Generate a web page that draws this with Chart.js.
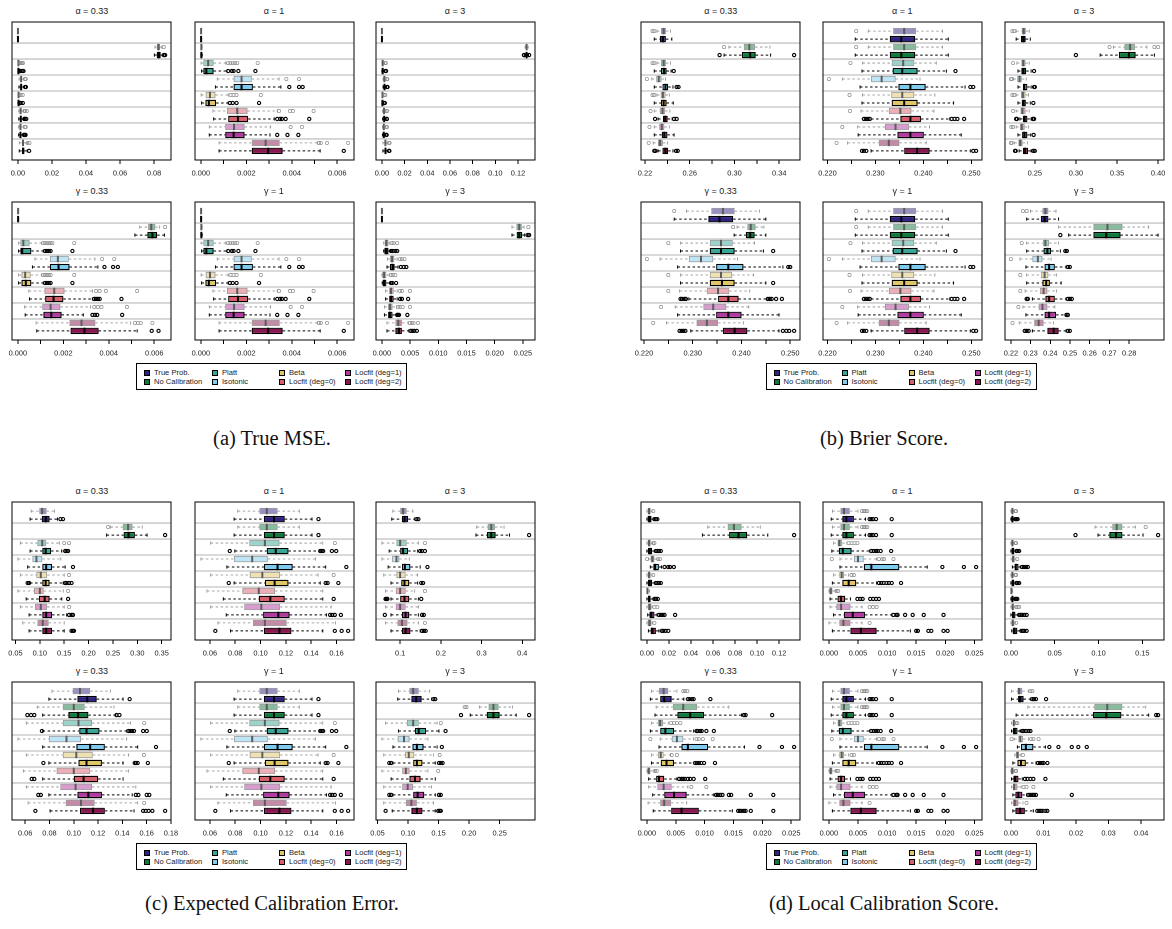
<!DOCTYPE html>
<html>
<head>
<meta charset="utf-8">
<script src="https://cdn.jsdelivr.net/npm/chart.js@4.4.1/dist/chart.umd.min.js"></script>
<style>
body { margin: 0; background: #fff; }
#page { position: relative; width: 1172px; height: 929px; overflow: hidden; font-family: "Liberation Sans", Arial, sans-serif; }
canvas { position: absolute; }
.ptitle { position: absolute; width: 159px; text-align: center; font-size: 9px; line-height: 10px; color: #222; }
.legend { position: absolute; width: 271px; height: 27px; border: 1px solid #000; box-sizing: border-box; }
.litem { position: absolute; font-size: 7.6px; line-height: 8px; color: #222; white-space: nowrap; }
.lsq { position: absolute; width: 6px; height: 6px; border: 1px solid #000; box-sizing: border-box; }
.caption { position: absolute; font-family: "Liberation Serif", serif; font-size: 20.5px; line-height: 24px; color: #111; white-space: nowrap; transform: translateX(-50%); }
</style>
</head>
<body>
<div id="page"></div>
<script>
// rows per panel: [lower whisker, q1, median, q3, upper whisker, [outliers]]
// two rows per method: first = light (top), second = dark (bottom)
const methodNames = ['True Prob.', 'No Calibration', 'Platt', 'Isotonic', 'Beta', 'Locfit (deg=0)', 'Locfit (deg=1)', 'Locfit (deg=2)']
const methodColors = ['#2e2382', '#0f7a3b', '#38a595', '#7ecbee', '#dfc666', '#d85f6c', '#b13aa0', '#87184f']
const panelTitles = ['α = 0.33', 'α = 1', 'α = 3', 'γ = 0.33', 'γ = 1', 'γ = 3']

// (a) True MSE
const mseA033 = [
  [0, 0.00002, 0.00004, 0.00006, 0.0001, []],
  [0, 0.00002, 0.00004, 0.00006, 0.0001, []],
  [0.0805, 0.0816, 0.0826, 0.0835, 0.0845, [0.0857]],
  [0.0802, 0.0816, 0.0828, 0.0839, 0.0849, [0.0858, 0.0865]],
  [0, 0.0001, 0.0003, 0.0006, 0.0012, [0.0014, 0.0017, 0.0025, 0.003]],
  [0, 0.0001, 0.0003, 0.0006, 0.0012, [0.0014, 0.0016, 0.0026, 0.0033]],
  [0.0007, 0.0015, 0.0019, 0.0024, 0.0036, [0.0041, 0.0046]],
  [0.0006, 0.0015, 0.0019, 0.0025, 0.0038, [0.0042, 0.0047]],
  [0, 0.0002, 0.0004, 0.0007, 0.0013, [0.0016, 0.0028]],
  [0, 0.0002, 0.0004, 0.0007, 0.0013, [0.0015, 0.0017, 0.0029]],
  [0.0005, 0.0012, 0.0016, 0.0021, 0.0034, [0.0038, 0.0041, 0.0052]],
  [0.0005, 0.0012, 0.0017, 0.0022, 0.0035, [0.0038, 0.004, 0.0049]],
  [0.0004, 0.0011, 0.0015, 0.002, 0.0032, [0.0041, 0.0046]],
  [0.0004, 0.0011, 0.0015, 0.002, 0.0032, [0.0035, 0.0039, 0.0045]],
  [0.0008, 0.0024, 0.003, 0.0036, 0.0054, [0.0056, 0.0068]],
  [0.0008, 0.0024, 0.0031, 0.0038, 0.0055, [0.0066]]
]
const mseA1 = [
  [0, 0.000005, 0.00001, 0.000015, 0.00003, []],
  [0, 0.000005, 0.00001, 0.000015, 0.00003, []],
  [0, 0.00001, 0.00002, 0.00003, 0.00006, []],
  [0, 0.00001, 0.00002, 0.00003, 0.00006, []],
  [0.00001, 0.00011, 0.00032, 0.00056, 0.0011, [0.0012, 0.0013, 0.0014, 0.0015, 0.0016, 0.0025]],
  [0.00003, 0.00011, 0.00024, 0.00056, 0.00115, [0.0012, 0.00136, 0.00144, 0.00165, 0.0024]],
  [0.00072, 0.00144, 0.00179, 0.00224, 0.00344, [0.00376, 0.00432]],
  [0.00064, 0.00144, 0.00179, 0.00229, 0.00352, [0.00389, 0.00432, 0.00448]],
  [0.00001, 0.00021, 0.0004, 0.00064, 0.0012, [0.00131, 0.00144, 0.00157, 0.00264]],
  [0.00003, 0.0002, 0.00035, 0.00067, 0.0012, [0.00128, 0.0014, 0.00157, 0.00256]],
  [0.00053, 0.00115, 0.0016, 0.00205, 0.00336, [0.00344, 0.00392, 0.00405, 0.00496]],
  [0.00056, 0.0012, 0.00163, 0.00208, 0.00323, [0.00336, 0.00349, 0.00357, 0.00373, 0.00477]],
  [0.00037, 0.00107, 0.00146, 0.00192, 0.00307, [0.00395, 0.00445]],
  [0.00037, 0.00107, 0.00144, 0.00192, 0.00304, [0.00336, 0.00381, 0.00429]],
  [0.0008, 0.00224, 0.00285, 0.00347, 0.00512, [0.0052, 0.00528, 0.00555, 0.00648]],
  [0.0008, 0.00224, 0.00296, 0.0036, 0.00525, [0.00629]]
]
const mseA3 = [
  [0, 0.00002, 0.00004, 0.00006, 0.0001, []],
  [0, 0.00002, 0.00004, 0.00006, 0.0001, []],
  [0.1262, 0.1271, 0.1276, 0.1281, 0.129, []],
  [0.1258, 0.127, 0.1276, 0.1282, 0.1293, [0.1252, 0.1255, 0.1298]],
  [0, 0.0003, 0.0007, 0.0012, 0.0025, [0.003, 0.0035]],
  [0, 0.0003, 0.0007, 0.0013, 0.0026, [0.0031, 0.0037]],
  [0.001, 0.0018, 0.0022, 0.0027, 0.0038, [0.0043, 0.0048]],
  [0.001, 0.0018, 0.0023, 0.0028, 0.004, [0.0045, 0.005]],
  [0, 0.0002, 0.0005, 0.0009, 0.0018, [0.0022, 0.003]],
  [0, 0.0002, 0.0005, 0.0009, 0.0018, [0.0021, 0.0026]],
  [0.0006, 0.0015, 0.0019, 0.0024, 0.0037, [0.0041, 0.0046]],
  [0.0006, 0.0015, 0.002, 0.0025, 0.0038, [0.0042, 0.0044]],
  [0.0005, 0.0013, 0.0017, 0.0022, 0.0035, [0.0039, 0.0045]],
  [0.0005, 0.0013, 0.0017, 0.0022, 0.0035, [0.0038, 0.0042]],
  [0.0009, 0.0025, 0.0031, 0.0037, 0.0055, [0.006, 0.0068]],
  [0.0009, 0.0025, 0.0032, 0.0039, 0.0056, [0.0062, 0.0066]]
]
const mseG033 = [
  [0, 0.000005, 0.00001, 0.000015, 0.00003, []],
  [0, 0.000005, 0.00001, 0.000015, 0.00003, []],
  [0.00536, 0.00573, 0.00587, 0.00605, 0.00624, [0.00648]],
  [0.00515, 0.0057, 0.00592, 0.00613, 0.00645, []],
  [0.00003, 0.00011, 0.00024, 0.00051, 0.00104, [0.00112, 0.0012, 0.00128, 0.00136, 0.00144, 0.00152, 0.00248]],
  [0.00003, 0.00011, 0.00019, 0.00059, 0.00112, [0.0012, 0.00128, 0.00136, 0.00144, 0.0024]],
  [0.00075, 0.00141, 0.00176, 0.00224, 0.00339, [0.00371, 0.00424]],
  [0.00064, 0.00141, 0.00179, 0.00227, 0.00352, [0.00381, 0.00419, 0.0044]],
  [0.00003, 0.00016, 0.00032, 0.00056, 0.00104, [0.00112, 0.0012, 0.00128, 0.00136, 0.00144, 0.00248]],
  [0.00003, 0.00016, 0.00035, 0.00059, 0.00112, [0.0012, 0.00128, 0.00136, 0.00144, 0.0024]],
  [0.00048, 0.00117, 0.0016, 0.00205, 0.00328, [0.00344, 0.0036, 0.00387, 0.00525]],
  [0.00051, 0.0012, 0.00157, 0.002, 0.00328, [0.00336, 0.00344, 0.00352, 0.0036, 0.00456]],
  [0.00029, 0.00107, 0.00144, 0.00187, 0.0032, [0.00336, 0.00352, 0.00368, 0.0048]],
  [0.00032, 0.00112, 0.00147, 0.00192, 0.00288, [0.00328, 0.00339, 0.00349, 0.00459]],
  [0.0008, 0.00227, 0.0028, 0.00341, 0.00496, [0.00515, 0.00528, 0.00541, 0.00592]],
  [0.00083, 0.00232, 0.00293, 0.00355, 0.00525, [0.00589, 0.00619]]
]
const mseG3 = [
  [0, 0.000005, 0.00001, 0.000015, 0.00003, []],
  [0, 0.000005, 0.00001, 0.000015, 0.00003, []],
  [0.02306, 0.02384, 0.02435, 0.02481, 0.0252, [0.02597]],
  [0.02306, 0.0239, 0.02435, 0.02487, 0.02532, [0.02584, 0.0261]],
  [0.00032, 0.0005, 0.00078, 0.00116, 0.00142, [0.00174, 0.00207, 0.00271]],
  [0.00032, 0.00045, 0.00078, 0.00116, 0.00155, [0.00161, 0.00194, 0.00239, 0.00271]],
  [0.00097, 0.00142, 0.00181, 0.0022, 0.00271, [0.00323, 0.00355, 0.004]],
  [0.0009, 0.00142, 0.00187, 0.00226, 0.00284, [0.00336, 0.00388, 0.00433]],
  [0, 0.00006, 0.00039, 0.00078, 0.0013, [0.00161, 0.00194, 0.00239]],
  [0.00006, 0.00013, 0.00039, 0.00078, 0.00142, [0.00161, 0.00187, 0.00252]],
  [0.00065, 0.00129, 0.00161, 0.00207, 0.00271, [0.00323, 0.00355, 0.00497]],
  [0.00065, 0.00129, 0.00161, 0.00207, 0.00271, [0.00323, 0.00355, 0.00465]],
  [0.00045, 0.0011, 0.00142, 0.00187, 0.00258, [0.00284, 0.00316, 0.00368, 0.00497]],
  [0.00045, 0.0011, 0.00142, 0.00187, 0.00258, [0.00271, 0.00284, 0.00304, 0.00452]],
  [0.0009, 0.00239, 0.0029, 0.00355, 0.00465, [0.00497, 0.0053, 0.00562, 0.00639]],
  [0.0009, 0.00239, 0.00303, 0.00355, 0.00478, [0.0051, 0.00543, 0.00575, 0.0062]]
]

// (b) Brier score
const brierA033 = [
  [0.2307, 0.2343, 0.2367, 0.2387, 0.2427, [0.2267, 0.2283]],
  [0.2283, 0.2333, 0.236, 0.2387, 0.244, []],
  [0.295, 0.3083, 0.3133, 0.3183, 0.3317, [0.2907]],
  [0.2907, 0.3067, 0.314, 0.319, 0.3323, [0.2867, 0.3533]],
  [0.2307, 0.2343, 0.2367, 0.2387, 0.2427, [0.2267, 0.2283]],
  [0.2283, 0.2343, 0.237, 0.2393, 0.2433, [0.2457]],
  [0.226, 0.23, 0.2323, 0.2347, 0.2383, [0.2217]],
  [0.2283, 0.2357, 0.2383, 0.2407, 0.245, [0.2483, 0.25]],
  [0.2307, 0.234, 0.236, 0.2383, 0.2417, [0.2267, 0.2283]],
  [0.2283, 0.2343, 0.2367, 0.2393, 0.2453, []],
  [0.2283, 0.2333, 0.2357, 0.238, 0.2423, [0.225]],
  [0.2317, 0.236, 0.238, 0.2403, 0.2443, [0.229, 0.246, 0.2483]],
  [0.2283, 0.2327, 0.235, 0.2373, 0.2417, [0.224]],
  [0.2283, 0.235, 0.2373, 0.24, 0.246, []],
  [0.2273, 0.2317, 0.2333, 0.236, 0.24, [0.2233]],
  [0.2317, 0.2357, 0.2383, 0.2407, 0.245, [0.2283, 0.2293, 0.2477, 0.2493]]
]
const brierA1 = [
  [0.2285, 0.2337, 0.236, 0.2385, 0.244, [0.226]],
  [0.2258, 0.233, 0.2354, 0.2383, 0.2452, []],
  [0.2285, 0.2337, 0.236, 0.2385, 0.244, [0.226]],
  [0.2258, 0.233, 0.2354, 0.2383, 0.2452, []],
  [0.2273, 0.2334, 0.2358, 0.2381, 0.2427, [0.2248]],
  [0.2272, 0.2336, 0.2356, 0.2388, 0.2448, [0.2467]],
  [0.2231, 0.2291, 0.2313, 0.2342, 0.2393, [0.2203]],
  [0.2268, 0.2348, 0.2373, 0.2405, 0.2487, [0.2498, 0.2504]],
  [0.2273, 0.2333, 0.2356, 0.2381, 0.2424, [0.2246]],
  [0.2272, 0.2334, 0.236, 0.2388, 0.2463, []],
  [0.227, 0.2328, 0.2352, 0.2375, 0.2422, [0.2247]],
  [0.2291, 0.2352, 0.2373, 0.2395, 0.2455, [0.2276, 0.228, 0.2284, 0.2288, 0.2459, 0.2465, 0.2471, 0.2485]],
  [0.2263, 0.232, 0.2342, 0.237, 0.2413, [0.2231]],
  [0.2264, 0.2346, 0.2373, 0.2401, 0.2479, []],
  [0.2242, 0.2307, 0.2328, 0.235, 0.2406, [0.2219]],
  [0.2291, 0.236, 0.2387, 0.2413, 0.2498, [0.2272, 0.2276, 0.2281, 0.2504, 0.251]]
]
const brierA3 = [
  [0.2273, 0.2341, 0.2364, 0.2391, 0.2432, [0.2227, 0.225]],
  [0.2273, 0.2332, 0.2359, 0.2389, 0.2445, []],
  [0.3455, 0.3591, 0.3659, 0.3718, 0.3864, [0.3409, 0.3955, 0.4]],
  [0.3295, 0.3523, 0.3645, 0.3727, 0.3955, [0.3]],
  [0.2282, 0.2336, 0.2359, 0.2386, 0.2432, [0.2236]],
  [0.2295, 0.2336, 0.2364, 0.2395, 0.2455, [0.2491]],
  [0.2241, 0.2286, 0.2314, 0.2341, 0.2395, [0.2209, 0.2218]],
  [0.2295, 0.2355, 0.2373, 0.2409, 0.2455, [0.2491, 0.25]],
  [0.2273, 0.2332, 0.2355, 0.2386, 0.2423, [0.2227, 0.225]],
  [0.2295, 0.2341, 0.2364, 0.2391, 0.2445, [0.2482]],
  [0.2273, 0.2327, 0.235, 0.2386, 0.2432, [0.2236]],
  [0.2318, 0.2355, 0.2377, 0.2409, 0.2455, [0.2273, 0.2282, 0.2477, 0.2491]],
  [0.2273, 0.2318, 0.2341, 0.2377, 0.2423, [0.2214, 0.2236]],
  [0.2295, 0.2345, 0.2373, 0.2409, 0.245, [0.2486]],
  [0.225, 0.23, 0.2322, 0.235, 0.2409, [0.2209, 0.2218]],
  [0.2309, 0.2355, 0.2382, 0.2418, 0.2455, [0.2259, 0.2268, 0.2482, 0.25]]
]
const brierG033 = [
  [0.2287, 0.2338, 0.2362, 0.2386, 0.2437, [0.2262]],
  [0.2262, 0.2332, 0.2355, 0.2383, 0.245, []],
  [0.2391, 0.2412, 0.2419, 0.2429, 0.2446, [0.2383]],
  [0.2385, 0.2409, 0.2418, 0.2427, 0.245, []],
  [0.2275, 0.2335, 0.2358, 0.2382, 0.2427, [0.225]],
  [0.2275, 0.2335, 0.2358, 0.2386, 0.2445, [0.2465]],
  [0.2233, 0.2292, 0.2317, 0.2342, 0.2392, [0.2206]],
  [0.2269, 0.2348, 0.2373, 0.2404, 0.2485, [0.2496, 0.25]],
  [0.2275, 0.2335, 0.2358, 0.2381, 0.2425, [0.225]],
  [0.2275, 0.2335, 0.236, 0.2386, 0.245, [0.2465]],
  [0.2273, 0.2329, 0.2352, 0.2375, 0.2417, [0.225]],
  [0.2292, 0.2352, 0.2373, 0.2394, 0.2452, [0.2275, 0.2278, 0.2283, 0.2286, 0.2454, 0.2458, 0.2462, 0.2471, 0.2483]],
  [0.2264, 0.2322, 0.2342, 0.2369, 0.2415, [0.2235]],
  [0.2269, 0.2348, 0.2373, 0.24, 0.2477, []],
  [0.2246, 0.2308, 0.2329, 0.2352, 0.2404, [0.2219]],
  [0.2296, 0.2362, 0.2386, 0.2412, 0.2477, [0.2273, 0.2277, 0.2281, 0.2285, 0.2485, 0.2492, 0.2498, 0.2508]]
]
const brierG3 = [
  [0.2299, 0.236, 0.2375, 0.239, 0.2429, [0.2261, 0.228]],
  [0.228, 0.2352, 0.2371, 0.239, 0.2442, []],
  [0.2442, 0.2619, 0.269, 0.2766, 0.2899, []],
  [0.2493, 0.2619, 0.2684, 0.2756, 0.2947, [0.2451]],
  [0.228, 0.2362, 0.2375, 0.2394, 0.2442, [0.2255]],
  [0.228, 0.2366, 0.2385, 0.2404, 0.2451, [0.2476, 0.2484]],
  [0.2246, 0.2309, 0.2337, 0.236, 0.2404, [0.22]],
  [0.2276, 0.2371, 0.2394, 0.2423, 0.248, [0.2489, 0.2499]],
  [0.228, 0.2352, 0.2371, 0.239, 0.2432, [0.2248]],
  [0.228, 0.236, 0.2379, 0.2398, 0.2455, []],
  [0.2272, 0.2347, 0.2366, 0.2385, 0.2432, [0.2248]],
  [0.2309, 0.2375, 0.2394, 0.2423, 0.248, [0.228, 0.2286, 0.2489, 0.2499, 0.2509]],
  [0.2261, 0.2341, 0.236, 0.2385, 0.2423, [0.2238]],
  [0.2276, 0.2371, 0.2394, 0.2429, 0.2476, [0.2482, 0.2489]],
  [0.2242, 0.2318, 0.2341, 0.2366, 0.2417, [0.2208]],
  [0.2309, 0.2385, 0.2417, 0.2442, 0.248, [0.227, 0.228, 0.229, 0.2489, 0.2499]]
]

// (c) Expected calibration error
const eceA033 = [
  [0.0823, 0.0988, 0.1048, 0.1138, 0.1303, []],
  [0.08, 0.104, 0.1123, 0.1198, 0.1363, [0.1423, 0.1475]],
  [0.245, 0.27, 0.281, 0.29, 0.31, [0.24]],
  [0.237, 0.272, 0.282, 0.295, 0.32, [0.357]],
  [0.06, 0.095, 0.105, 0.113, 0.14, [0.15, 0.16]],
  [0.08, 0.105, 0.112, 0.123, 0.145, [0.152, 0.155, 0.158]],
  [0.055, 0.085, 0.093, 0.105, 0.143, []],
  [0.075, 0.105, 0.113, 0.125, 0.152, [0.168]],
  [0.06, 0.093, 0.102, 0.115, 0.15, [0.16]],
  [0.08, 0.105, 0.112, 0.12, 0.148, [0.075, 0.078, 0.152, 0.155, 0.16, 0.165]],
  [0.055, 0.088, 0.1, 0.108, 0.148, [0.158]],
  [0.072, 0.098, 0.11, 0.12, 0.145, [0.158]],
  [0.06, 0.09, 0.102, 0.115, 0.15, [0.16]],
  [0.078, 0.105, 0.113, 0.125, 0.155, [0.16, 0.165, 0.168]],
  [0.065, 0.095, 0.106, 0.118, 0.15, []],
  [0.078, 0.105, 0.113, 0.125, 0.15, [0.165, 0.168, 0.17]]
]
const eceA1 = [
  [0.082, 0.0991, 0.1049, 0.1134, 0.1306, []],
  [0.0791, 0.1026, 0.1106, 0.1191, 0.1406, [0.1457]],
  [0.082, 0.0991, 0.1049, 0.1134, 0.1306, []],
  [0.0791, 0.1026, 0.1106, 0.1191, 0.1406, [0.1457]],
  [0.0606, 0.0911, 0.1034, 0.1149, 0.1491, [0.1586]],
  [0.0797, 0.1049, 0.112, 0.122, 0.1463, [0.0757, 0.1471, 0.1483, 0.1494, 0.1563, 0.1597]],
  [0.0529, 0.0791, 0.0934, 0.1057, 0.1434, []],
  [0.0734, 0.1026, 0.1134, 0.1254, 0.1514, [0.1677]],
  [0.0606, 0.0914, 0.1014, 0.1154, 0.1454, [0.1577]],
  [0.0791, 0.1034, 0.1111, 0.122, 0.1471, [0.0749, 0.1514, 0.1529, 0.1614]],
  [0.0577, 0.0857, 0.0986, 0.1114, 0.1491, []],
  [0.0706, 0.0986, 0.1077, 0.1191, 0.1491, [0.1577]],
  [0.0606, 0.0871, 0.1006, 0.1154, 0.1557, []],
  [0.0729, 0.102, 0.114, 0.1229, 0.152, [0.1549, 0.1566, 0.1586, 0.1634]],
  [0.0663, 0.094, 0.1034, 0.1206, 0.1591, []],
  [0.0763, 0.1026, 0.1149, 0.1243, 0.1491, [0.0643, 0.1586, 0.164, 0.1691]]
]
const eceA3 = [
  [0.082, 0.1, 0.1072, 0.1161, 0.1313, []],
  [0.0794, 0.1045, 0.1107, 0.1197, 0.1358, [0.1403, 0.1448]],
  [0.288, 0.3149, 0.3238, 0.3328, 0.3552, []],
  [0.2862, 0.3131, 0.3238, 0.3346, 0.3686, [0.4168]],
  [0.0552, 0.091, 0.1, 0.1161, 0.1448, [0.1609]],
  [0.0731, 0.1, 0.1072, 0.1197, 0.143, [0.1492, 0.1537, 0.1609]],
  [0.0552, 0.0803, 0.091, 0.0982, 0.1224, []],
  [0.0705, 0.1045, 0.1116, 0.1251, 0.1492, [0.1671]],
  [0.0597, 0.091, 0.1, 0.1134, 0.143, []],
  [0.0776, 0.1027, 0.1107, 0.1224, 0.143, [0.1519, 0.1564]],
  [0.0642, 0.0892, 0.1, 0.1134, 0.1358, [0.1609]],
  [0.0776, 0.1, 0.1107, 0.1224, 0.1448, [0.0642, 0.0669, 0.0687, 0.1519]],
  [0.0642, 0.0892, 0.1, 0.1134, 0.1448, []],
  [0.0776, 0.1045, 0.1134, 0.1224, 0.1448, [0.0624, 0.1537, 0.1582]],
  [0.0642, 0.0937, 0.1045, 0.1179, 0.1448, [0.1609]],
  [0.0776, 0.1045, 0.1134, 0.1251, 0.1492, [0.1537, 0.1582, 0.1627]]
]
const eceG033 = [
  [0.082, 0.0991, 0.1051, 0.1135, 0.1301, []],
  [0.0795, 0.103, 0.1111, 0.1189, 0.1406, [0.146]],
  [0.0699, 0.091, 0.1, 0.109, 0.1331, []],
  [0.0744, 0.0955, 0.1036, 0.112, 0.1346, [0.0618, 0.0648, 0.0675, 0.1352, 0.1376]],
  [0.0609, 0.091, 0.1039, 0.115, 0.1466, [0.158]],
  [0.0744, 0.1045, 0.1105, 0.1211, 0.1436, [0.0738, 0.1451, 0.1466, 0.1481, 0.1496, 0.1571, 0.1601]],
  [0.054, 0.0795, 0.094, 0.106, 0.1436, []],
  [0.0744, 0.1021, 0.1135, 0.1256, 0.1526, [0.1677]],
  [0.0609, 0.091, 0.1021, 0.1156, 0.1451, [0.1577]],
  [0.0795, 0.1039, 0.1105, 0.1232, 0.1406, [0.075, 0.1502, 0.1511, 0.1526, 0.161]],
  [0.0585, 0.0859, 0.1, 0.1135, 0.1451, []],
  [0.0744, 0.1, 0.1081, 0.1201, 0.1406, [0.0654, 0.0675]],
  [0.0609, 0.0889, 0.1015, 0.115, 0.1511, []],
  [0.0795, 0.103, 0.112, 0.1232, 0.1481, [0.0708, 0.0729, 0.1511, 0.1532, 0.1601, 0.1622]],
  [0.0624, 0.0934, 0.106, 0.1171, 0.1526, [0.158]],
  [0.0805, 0.1051, 0.1159, 0.1256, 0.1496, [0.0684, 0.1571, 0.1592, 0.1616, 0.1647, 0.1752]]
]
const eceG3 = [
  [0.0843, 0.1024, 0.1084, 0.1175, 0.1355, []],
  [0.0831, 0.1054, 0.1133, 0.1223, 0.1386, [0.1416, 0.1446]],
  [0.2169, 0.2319, 0.2398, 0.2482, 0.2711, [0.1928, 0.1958]],
  [0.2018, 0.2289, 0.2398, 0.25, 0.2771, [0.1867, 0.2982]],
  [0.0633, 0.0982, 0.1084, 0.1175, 0.1476, [0.1536]],
  [0.0843, 0.1114, 0.1175, 0.1295, 0.1506, [0.1614]],
  [0.0572, 0.0831, 0.0934, 0.1024, 0.1325, []],
  [0.0753, 0.1072, 0.1145, 0.1253, 0.1476, [0.1554]],
  [0.0602, 0.0952, 0.1012, 0.1102, 0.1416, [0.1518]],
  [0.0753, 0.1084, 0.1145, 0.1235, 0.1446, [0.0693, 0.0723, 0.1506, 0.1536, 0.1566]],
  [0.0572, 0.0904, 0.0964, 0.1024, 0.1325, [0.1494]],
  [0.0723, 0.1024, 0.1114, 0.1205, 0.1446, []],
  [0.0602, 0.0904, 0.0994, 0.1084, 0.1386, []],
  [0.0753, 0.1084, 0.1157, 0.1265, 0.1446, [0.0693, 0.0723, 0.1506, 0.1536]],
  [0.0602, 0.0964, 0.1054, 0.1145, 0.1416, []],
  [0.0741, 0.1054, 0.1145, 0.1235, 0.1446, [0.0633, 0.1494, 0.1518, 0.1536]]
]

// (d) Local calibration score
const lcsA033 = [
  [0, 0.0007, 0.002, 0.0034, 0.0048, [0.0058]],
  [0, 0.0007, 0.0024, 0.0041, 0.0058, [0.0068, 0.0082, 0.0095]],
  [0.0552, 0.0733, 0.079, 0.0859, 0.1029, []],
  [0.0504, 0.0746, 0.0831, 0.091, 0.1097, [0.1336]],
  [0, 0.0007, 0.002, 0.0034, 0.0048, [0.0058, 0.0068]],
  [0, 0.001, 0.0027, 0.0048, 0.0068, [0.0082, 0.0095, 0.0109, 0.0126]],
  [0.0014, 0.0034, 0.005, 0.0068, 0.0092, [0.0002, 0.0102, 0.0119]],
  [0.0031, 0.0058, 0.0075, 0.0109, 0.0133, [0.016, 0.0194, 0.0211, 0.0245]],
  [0, 0.0007, 0.002, 0.0034, 0.0048, [0.0058]],
  [0, 0.001, 0.0027, 0.0048, 0.0068, [0.0082, 0.0095, 0.0109, 0.0126]],
  [0, 0.0001, 0.0005, 0.0014, 0.0024, []],
  [0, 0.001, 0.002, 0.0034, 0.0058, [0.0068, 0.0082, 0.0099]],
  [0, 0.001, 0.0024, 0.0041, 0.0051, [0.0068, 0.0095]],
  [0.0007, 0.0024, 0.0041, 0.0068, 0.0092, [0.0109, 0.0126, 0.0143, 0.016, 0.0256]],
  [0, 0.0007, 0.0024, 0.0041, 0.0051, [0.0068]],
  [0.0014, 0.0034, 0.005, 0.0082, 0.0109, [0.0136, 0.015, 0.017, 0.0194]]
]
const lcsA1 = [
  [0.0006, 0.002, 0.0026, 0.0036, 0.005, [0.0057, 0.006, 0.0063, 0.0066]],
  [0.0004, 0.0023, 0.003, 0.0043, 0.0063, [0.007, 0.0073, 0.0076, 0.0081, 0.0108]],
  [0.0006, 0.002, 0.0026, 0.0036, 0.005, [0.0057, 0.006, 0.0063, 0.0066]],
  [0.0004, 0.0023, 0.003, 0.0043, 0.0063, [0.007, 0.0073, 0.0076, 0.0081, 0.0108]],
  [0.0008, 0.0015, 0.0018, 0.0023, 0.0031, [0.0034, 0.0039, 0.0044, 0.0049]],
  [0.0005, 0.0017, 0.0024, 0.0039, 0.007, [0.0073, 0.0077, 0.0081, 0.0084, 0.0089, 0.0107]],
  [0.0019, 0.0043, 0.005, 0.006, 0.0082, [0.0005, 0.0086, 0.0092, 0.0095, 0.0111]],
  [0.0019, 0.006, 0.0073, 0.0121, 0.0169, [0.0195, 0.0232, 0.0253]],
  [0.0008, 0.0018, 0.0022, 0.0026, 0.0034, [0.0039, 0.0043]],
  [0.0006, 0.0023, 0.0034, 0.0047, 0.0082, [0.0086, 0.009, 0.0094, 0.0099, 0.0103, 0.0108, 0.0124]],
  [0, 0.0001, 0.0003, 0.0006, 0.0012, [0.0013, 0.0016]],
  [0.0002, 0.0015, 0.0021, 0.0028, 0.0037, [0.0049, 0.0054, 0.0058, 0.0071, 0.0076, 0.0081, 0.0086]],
  [0.0002, 0.0013, 0.0021, 0.0037, 0.0057, [0.007, 0.0076, 0.0082]],
  [0.0008, 0.0026, 0.0041, 0.0062, 0.0108, [0.0111, 0.0116, 0.0118, 0.0131, 0.0144, 0.0163, 0.0197]],
  [0, 0.0018, 0.0025, 0.0037, 0.0057, [0.007]],
  [0.0006, 0.0037, 0.0055, 0.0082, 0.014, [0.015, 0.0153, 0.0171, 0.0176, 0.0197, 0.0204]]
]
const lcsA3 = [
  [0, 0.0009, 0.0017, 0.003, 0.0043, [0.0051, 0.006]],
  [0, 0.0009, 0.0017, 0.003, 0.0043, [0.0051, 0.0064, 0.0077]],
  [0.096, 0.1157, 0.1208, 0.1272, 0.1422, [0.1538]],
  [0.0994, 0.1123, 0.12, 0.1272, 0.1508, [0.0737, 0.168]],
  [0, 0.0009, 0.0017, 0.003, 0.0043, [0.0051, 0.006]],
  [0, 0.0009, 0.0021, 0.0039, 0.0051, [0.0064, 0.0077, 0.0094]],
  [0.0002, 0.0013, 0.0026, 0.0043, 0.0056, [0.0073]],
  [0.0017, 0.0043, 0.0056, 0.0086, 0.0107, [0.0129, 0.015, 0.0171, 0.0193]],
  [0, 0.0009, 0.0017, 0.003, 0.0043, [0.0051, 0.006]],
  [0, 0.0009, 0.0021, 0.0039, 0.0051, [0.0064, 0.0077, 0.0094]],
  [0, 0.0002, 0.0006, 0.0013, 0.0021, []],
  [0, 0.0009, 0.0017, 0.003, 0.0043, [0.0051, 0.006, 0.0073]],
  [0, 0.0009, 0.0021, 0.0034, 0.0047, [0.006, 0.0077, 0.0094]],
  [0, 0.0013, 0.0026, 0.0051, 0.0081, [0.0094, 0.0111, 0.0129, 0.0154, 0.018]],
  [0, 0.0009, 0.0021, 0.0039, 0.0051, [0.006]],
  [0.0009, 0.0021, 0.0039, 0.0073, 0.0107, [0.012, 0.0137, 0.0154, 0.018]]
]
const lcsG033 = [
  [0.0008, 0.0021, 0.0029, 0.0037, 0.0052, [0.0063, 0.0066, 0.007]],
  [0.0006, 0.0023, 0.003, 0.0043, 0.0064, [0.0071, 0.0074, 0.0078, 0.0081, 0.011]],
  [0.0016, 0.0045, 0.0063, 0.0087, 0.0142, []],
  [0.0014, 0.0053, 0.0075, 0.0099, 0.0164, [0.0168, 0.0171, 0.0217]],
  [0.0008, 0.0019, 0.0023, 0.0028, 0.0037, [0.0042, 0.0047, 0.0052, 0.0058]],
  [0.0006, 0.0023, 0.0032, 0.0047, 0.0081, [0.0086, 0.0088, 0.0092, 0.0095, 0.0103, 0.0116]],
  [0.0023, 0.0043, 0.0052, 0.0063, 0.0081, [0.0006, 0.0086, 0.009, 0.0097, 0.0114]],
  [0.0021, 0.006, 0.0071, 0.0106, 0.0169, [0.0195, 0.0234, 0.0255]],
  [0.0008, 0.0019, 0.0024, 0.0029, 0.0041, [0.0043, 0.0052]],
  [0.0008, 0.0024, 0.0034, 0.0047, 0.0081, [0.0084, 0.0087, 0.009, 0.0094, 0.0099, 0.0118]],
  [0, 0.0001, 0.0003, 0.0006, 0.0013, [0.0014, 0.0017]],
  [0.0003, 0.0016, 0.0021, 0.003, 0.0052, [0.0056, 0.006, 0.0063, 0.0066, 0.0071, 0.0075, 0.0081, 0.0101]],
  [0.0003, 0.0018, 0.0029, 0.0043, 0.0071, [0.0077, 0.0103]],
  [0.001, 0.003, 0.0047, 0.0069, 0.0116, [0.012, 0.0123, 0.0127, 0.0131, 0.0142, 0.0146, 0.018, 0.0219]],
  [0.0002, 0.0023, 0.003, 0.0042, 0.0069, []],
  [0.0011, 0.0042, 0.006, 0.009, 0.0148, [0.0158, 0.0161, 0.0164, 0.0168, 0.0171, 0.018, 0.0219]]
]
const lcsG3 = [
  [0.0002, 0.002, 0.0025, 0.0035, 0.0054, [0.006, 0.0066]],
  [0.0002, 0.0022, 0.0028, 0.0039, 0.006, [0.0066, 0.0071, 0.0077, 0.0108]],
  [0.0052, 0.0256, 0.0296, 0.0342, 0.0414, []],
  [0.0016, 0.0252, 0.0293, 0.0339, 0.0423, [0.0446, 0.0452]],
  [0.0002, 0.0006, 0.0009, 0.0012, 0.0014, [0.0016, 0.002]],
  [0.0002, 0.0006, 0.0012, 0.002, 0.0028, [0.0035, 0.0039, 0.0046, 0.0054, 0.006]],
  [0.001, 0.0023, 0.0029, 0.0037, 0.0054, [0.0002, 0.0062, 0.0069, 0.0085]],
  [0.002, 0.0031, 0.0046, 0.0069, 0.0106, [0.0118, 0.0146, 0.0187, 0.0207, 0.0233]],
  [0.0012, 0.0016, 0.002, 0.0025, 0.0031, [0.0037]],
  [0.0006, 0.002, 0.0031, 0.0046, 0.0077, [0.0083, 0.0089, 0.0095, 0.01, 0.0112]],
  [0, 0.0001, 0.0004, 0.0008, 0.0012, [0.0014, 0.0016]],
  [0.0002, 0.0008, 0.0014, 0.0023, 0.0035, [0.0043, 0.0051, 0.006, 0.0069, 0.0106]],
  [0.0002, 0.0006, 0.001, 0.002, 0.0031, [0.0039, 0.0048, 0.0069]],
  [0.0006, 0.0014, 0.0023, 0.0035, 0.0048, [0.0054, 0.006, 0.0066, 0.0071, 0.0077, 0.0187]],
  [0.0002, 0.0006, 0.0012, 0.0023, 0.0037, [0.0048]],
  [0.0006, 0.0014, 0.0028, 0.0043, 0.0069, [0.0081, 0.0087, 0.0092, 0.0097, 0.0106, 0.0112]]
]

// tick labels
const mseA033Ticks = ['0.00', '0.02', '0.04', '0.06', '0.08']
const mseA1Ticks = ['0.000', '0.001', '0.002', '0.003', '0.004', '0.005', '0.006']
const mseA3Ticks = ['0.00', '0.02', '0.04', '0.06', '0.08', '0.10', '0.12']
const mseG3Ticks = ['0.000', '0.005', '0.010', '0.015', '0.020', '0.025']
const brierA033Ticks = ['0.22', '0.24', '0.26', '0.28', '0.30', '0.32', '0.34']
const brierA1Ticks = ['0.220', '0.225', '0.230', '0.235', '0.240', '0.245', '0.250']
const brierA3Ticks = ['0.25', '0.30', '0.35', '0.40']
const brierG3Ticks = ['0.22', '0.23', '0.24', '0.25', '0.26', '0.27', '0.28']
const eceA033Ticks = ['0.05', '0.10', '0.15', '0.20', '0.25', '0.30', '0.35']
const eceA1Ticks = ['0.06', '0.08', '0.10', '0.12', '0.14', '0.16']
const eceA3Ticks = ['0.1', '0.2', '0.3', '0.4']
const eceG033Ticks = ['0.06', '0.08', '0.10', '0.12', '0.14', '0.16', '0.18']
const eceG3Ticks = ['0.05', '0.10', '0.15', '0.20', '0.25']
const lcsA033Ticks = ['0.00', '0.02', '0.04', '0.06', '0.08', '0.10', '0.12']
const lcsA1Ticks = ['0.000', '0.005', '0.010', '0.015', '0.020', '0.025']
const lcsA3Ticks = ['0.00', '0.05', '0.10', '0.15']
const lcsG3Ticks = ['0.00', '0.01', '0.02', '0.03', '0.04']

const figures = [
  { caption: '(a) True MSE.', data: [mseA033, mseA1, mseA3, mseG033, mseA1, mseG3],
    ticks: [mseA033Ticks, mseA1Ticks, mseA3Ticks, mseA1Ticks, mseA1Ticks, mseG3Ticks], every: [1, 2, 1, 2, 2, 1] },
  { caption: '(b) Brier Score.', data: [brierA033, brierA1, brierA3, brierG033, brierA1, brierG3],
    ticks: [brierA033Ticks, brierA1Ticks, brierA3Ticks, brierA1Ticks, brierA1Ticks, brierG3Ticks], every: [2, 2, 1, 2, 2, 1] },
  { caption: '(c) Expected Calibration Error.', data: [eceA033, eceA1, eceA3, eceG033, eceA1, eceG3],
    ticks: [eceA033Ticks, eceA1Ticks, eceA3Ticks, eceG033Ticks, eceA1Ticks, eceG3Ticks], every: [1, 1, 1, 1, 1, 1] },
  { caption: '(d) Local Calibration Score.', data: [lcsA033, lcsA1, lcsA3, lcsG033, lcsA1, lcsG3],
    ticks: [lcsA033Ticks, lcsA1Ticks, lcsA3Ticks, lcsA1Ticks, lcsA1Ticks, lcsG3Ticks], every: [1, 1, 1, 1, 1, 1] }
]

// layout
const FRAME_W = 159, FRAME_H = 138
const PAD_X = 16, PAD_TOP = 2, AXIS_H = 22
const colX = [[12.4, 194.5, 375.6], [641.2, 822.8, 1004.5]]
const rowY = [22, 202]
const figY = [0, 480]
const legendX = [136, 765.5]
const captionX = [272, 884]
const captionY = [426, 891]

Chart.defaults.font.family = '"Liberation Sans", Arial, sans-serif'
const page = document.getElementById('page')

const light = (hex, a) => {
  let n = parseInt(hex.slice(1), 16)
  return `rgba(${n >> 16},${(n >> 8) & 255},${n & 255},${a})`
}

const seg = (ctx, x1, y1, x2, y2) => {
  ctx.beginPath()
  ctx.moveTo(x1, y1)
  ctx.lineTo(x2, y2)
  ctx.stroke()
}

// whiskers, staples, medians, outliers, group separators and frame
const boxLayer = (rows) => ({
  id: 'boxLayer',
  beforeDatasetsDraw(chart) {
    const { ctx, chartArea: a, scales: { y } } = chart
    ctx.save()
    ctx.strokeStyle = '#c4c4c4'
    ctx.lineWidth = 1.3
    for (let g = 1; g < methodNames.length; g++) {
      let py = y.getPixelForValue(2 * g + 0.5)
      seg(ctx, a.left, py, a.right, py)
    }
    ctx.restore()
  },
  afterDatasetsDraw(chart) {
    const { ctx, chartArea: a, scales: { x, y } } = chart
    const bars = chart.getDatasetMeta(0).data
    ctx.save()
    rows.forEach((r, i) => {
      let dark = i % 2 === 1
      let ink = dark ? '#000' : '#8c8c8c'
      let cy = y.getPixelForValue(i + 1)
      let h = bars[i].height
      let [lo, q1, med, q3, hi, out] = r
      ctx.strokeStyle = ink
      ctx.lineWidth = dark ? 1 : 0.8
      ctx.setLineDash([2.5, 2.5])
      seg(ctx, x.getPixelForValue(lo), cy, x.getPixelForValue(q1), cy)
      seg(ctx, x.getPixelForValue(q3), cy, x.getPixelForValue(hi), cy)
      ctx.setLineDash([])
      seg(ctx, x.getPixelForValue(lo), cy - h / 4, x.getPixelForValue(lo), cy + h / 4)
      seg(ctx, x.getPixelForValue(hi), cy - h / 4, x.getPixelForValue(hi), cy + h / 4)
      ctx.lineWidth = 2
      ctx.strokeStyle = dark ? '#000' : '#5c5c5c'
      seg(ctx, x.getPixelForValue(med), cy - h / 2, x.getPixelForValue(med), cy + h / 2)
      ctx.strokeStyle = ink
      ctx.lineWidth = dark ? 1.1 : 0.7
      out.forEach(v => {
        ctx.beginPath()
        ctx.arc(x.getPixelForValue(v), cy, 1.6, 0, Math.PI * 2)
        ctx.stroke()
      })
    })
    ctx.strokeStyle = '#000'
    ctx.lineWidth = 1
    ctx.strokeRect(a.left, a.top, a.right - a.left, a.bottom - a.top)
    ctx.restore()
  }
})

const makePanel = (left, top, title, rows, ticks, every) => {
  let t = document.createElement('div')
  t.className = 'ptitle'
  t.style.left = left + 'px'
  t.style.top = (top - 16) + 'px'
  t.textContent = title
  page.appendChild(t)

  let canvas = document.createElement('canvas')
  canvas.width = FRAME_W + 2 * PAD_X
  canvas.height = FRAME_H + PAD_TOP + AXIS_H
  canvas.style.left = (left - PAD_X) + 'px'
  canvas.style.top = (top - PAD_TOP) + 'px'
  page.appendChild(canvas)

  let lo = Math.min(...rows.map(r => Math.min(r[0], ...r[5])))
  let hi = Math.max(...rows.map(r => Math.max(r[4], ...r[5])))
  let pad = (hi - lo) * 0.04

  new Chart(canvas, {
    type: 'bar',
    data: {
      datasets: [{
        data: rows.map((r, i) => ({ x: [r[1], r[3]], y: i + 1 })),
        backgroundColor: rows.map((r, i) => i % 2 ? methodColors[i >> 1] : light(methodColors[i >> 1], 0.5)),
        borderColor: rows.map((r, i) => i % 2 ? '#000' : 'rgba(80,80,80,0.6)'),
        borderWidth: rows.map((r, i) => i % 2 ? 1.2 : 0.9),
        borderSkipped: false,
        barPercentage: 0.8,
        categoryPercentage: 1
      }]
    },
    options: {
      indexAxis: 'y',
      responsive: false,
      animation: false,
      devicePixelRatio: 2,
      layout: { padding: { left: PAD_X, right: PAD_X, top: PAD_TOP, bottom: 0 } },
      plugins: { legend: { display: false }, tooltip: { enabled: false } },
      scales: {
        x: {
          type: 'linear',
          min: lo - pad,
          max: hi + pad,
          bounds: 'data',
          afterBuildTicks: s => { s.ticks = ticks.map(v => ({ value: parseFloat(v) })) },
          afterFit: s => { s.height = AXIS_H },
          ticks: {
            autoSkip: false, maxRotation: 0, minRotation: 0, padding: 5,
            color: '#222', font: { size: 7.4 },
            callback: (v, i) => i % every ? '' : ticks[i]
          },
          grid: { drawOnChartArea: false, drawTicks: true, tickLength: 4, color: '#000', lineWidth: 1 },
          border: { display: false }
        },
        y: {
          type: 'linear', display: false, reverse: true, offset: false,
          min: 0.5 - 0.64, max: 16.5 + 0.64
        }
      }
    },
    plugins: [boxLayer(rows)]
  })
}

const makeLegend = (left, top) => {
  let box = document.createElement('div')
  box.className = 'legend'
  box.style.left = left + 'px'
  box.style.top = top + 'px'
  const sqX = [7, 75, 142, 208]
  const rowC = [9.5, 18.5]
  methodNames.forEach((name, m) => {
    let col = m >> 1, row = m % 2
    let sq = document.createElement('div')
    sq.className = 'lsq'
    sq.style.left = sqX[col] + 'px'
    sq.style.top = (rowC[row] - 4) + 'px'
    sq.style.background = methodColors[m]
    box.appendChild(sq)
    let tx = document.createElement('div')
    tx.className = 'litem'
    tx.style.left = (sqX[col] + 10) + 'px'
    tx.style.top = (rowC[row] - 5) + 'px'
    tx.textContent = name
    box.appendChild(tx)
  })
  page.appendChild(box)
}

figures.forEach((f, k) => {
  let side = k % 2, band = k >> 1
  f.data.forEach((rows, p) => {
    let col = p % 3, row = Math.floor(p / 3)
    makePanel(colX[side][col], figY[band] + rowY[row], panelTitles[p], rows, f.ticks[p], f.every[p])
  })
  makeLegend(legendX[side], figY[band] + 363)
  let cap = document.createElement('div')
  cap.className = 'caption'
  cap.style.left = captionX[side] + 'px'
  cap.style.top = captionY[band] + 'px'
  cap.textContent = f.caption
  page.appendChild(cap)
})
</script>
</body>
</html>
